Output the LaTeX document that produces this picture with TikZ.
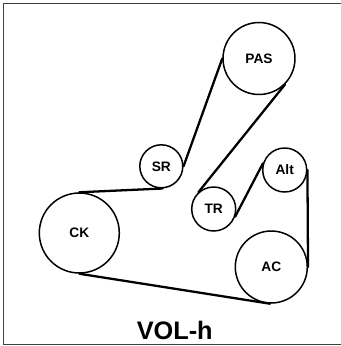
\documentclass[tikz,border=0pt]{standalone}
\usepackage{fontspec}
\setmainfont{Liberation Sans}
\tikzstyle{pulley} = [circle, draw=black, line width=0.85pt, inner sep=0pt, font=\fontsize{7.8}{9}\selectfont\bfseries]
\tikzstyle{belt} = [line width=1.3pt, line cap=round]
\tikzstyle{frame} = [draw=black!75, line width=0.65pt]

\begin{document}
\begin{tikzpicture}[x=0.02cm, y=-0.02cm]
\useasboundingbox (0,0) rectangle (341,346);
\draw [frame] (3.5,3.5) rectangle (360,344.7);

% Pulleys
\node (pas) [pulley, minimum size=1.44cm] at (259,58.5) {PAS};
\node (sr) [pulley, minimum size=0.86cm] at (161.3,166.3) {SR};
\node (tr) [pulley, minimum size=0.88cm] at (213.7,209) {TR};
\node (alt) [pulley, minimum size=0.88cm] at (284.7,170) {Alt};
\node (ac) [pulley, minimum size=1.44cm] at (271.3,267) {AC};
\node (ck) [pulley, minimum size=1.6cm] at (79.3,233) {CK};
\node (title) at (174.7,330) {\fontsize{14.4}{16}\selectfont\bfseries VOL-h};

% Belts
\draw [belt] (ck.90) -- (sr.-87);
\draw [belt] (sr.0) -- (pas.180);
\draw [belt] (pas.-45) -- (tr.132);
\draw [belt] (tr.-20) -- (alt.163);
\draw [belt] (alt.0) -- (ac.0);
\draw [belt] (ac.-92) -- (ck.-90);
\end{tikzpicture}
\end{document}
